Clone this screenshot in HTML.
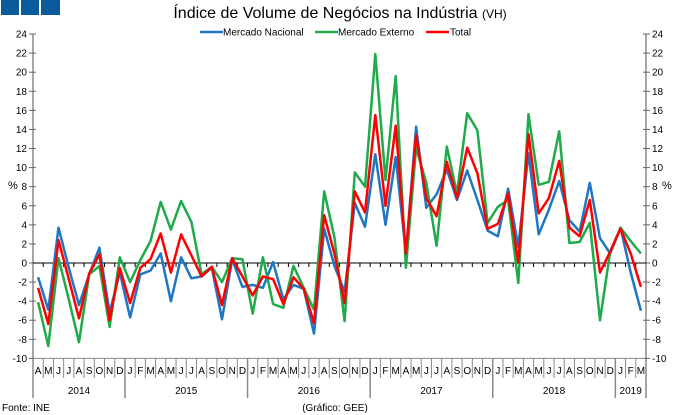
<!DOCTYPE html>
<html><head><meta charset="utf-8"><style>
body{margin:0;background:#fff;}
svg{display:block;font-family:"Liberation Sans",sans-serif;}
</style></head><body>
<svg id="c" width="680" height="415" viewBox="0 0 680 415">
<rect x="1" y="0" width="18" height="15" fill="#0b5a9c"/>
<rect x="21" y="0" width="18" height="15" fill="#0b5a9c"/>
<rect x="41" y="0" width="19" height="15" fill="#0b5a9c"/>
<text x="340" y="18" text-anchor="middle" font-size="16" fill="#000">Índice de Volume de Negócios na Indústria <tspan font-size="12">(VH)</tspan></text>
<g id="legend" font-size="10">
<line x1="200" y1="32" x2="223" y2="32" stroke="#1f77c4" stroke-width="2.5"/>
<text x="223" y="35.5">Mercado Nacional</text>
<line x1="315" y1="32" x2="338" y2="32" stroke="#1eab4b" stroke-width="2.5"/>
<text x="338" y="35.5">Mercado Externo</text>
<line x1="426" y1="32" x2="449" y2="32" stroke="#f00" stroke-width="2.5"/>
<text x="450" y="35.5">Total</text>
</g>
<g id="axes"></g>
<g id="series"></g>
<text x="8" y="189" font-size="11">%</text>
<text x="662" y="189" font-size="11">%</text>
<text x="2" y="411" font-size="10">Fonte: INE</text>
<text x="335" y="411" font-size="10" text-anchor="middle">(Gráfico: GEE)</text>
</svg>
<script>
const months=["A","M","J","J","A","S","O","N","D","J","F","M","A","M","J","J","A","S","O","N","D","J","F","M","A","M","J","J","A","S","O","N","D","J","F","M","A","M","J","J","A","S","O","N","D","J","F","M","A","M","J","J","A","S","O","N","D","J","F","M"];
const years=["2014","2015","2016","2017","2018","2019"];
const yearStarts=[0,9,21,33,45,57];
const yTicks=[24,22,20,18,16,14,12,10,8,6,4,2,0,-2,-4,-6,-8,-10];
const nacional=[-1.5,-4.9,3.7,-0.5,-4.4,-1.2,1.6,-5.2,-1.0,-5.7,-1.2,-0.8,1.0,-4.0,0.6,-1.6,-1.4,-0.5,-5.9,0.4,-2.5,-2.3,-2.6,0.1,-3.8,-2.3,-2.7,-7.4,3.6,-0.3,-3.0,6.3,3.8,11.4,4.0,11.1,1.0,14.3,5.8,7.2,9.8,6.6,9.7,6.6,3.4,2.8,7.8,1.7,11.5,3.0,5.6,8.6,4.5,3.3,8.4,2.6,1.0,3.7,-1.0,-5.0];
const externo=[-4.1,-8.7,0.5,-3.8,-8.3,-1.2,-0.3,-6.7,0.6,-2.0,0.3,2.3,6.4,3.5,6.5,4.3,-1.2,-0.4,-2.0,0.5,0.4,-5.3,0.6,-4.3,-4.7,-0.3,-2.6,-4.9,7.5,2.7,-6.1,9.5,8.0,21.9,8.7,19.6,-0.5,12.1,8.4,1.8,12.2,7.3,15.7,13.9,4.2,5.9,6.6,-2.1,15.6,8.2,8.5,13.8,2.1,2.2,4.2,-6.0,1.2,3.7,2.3,1.0];
const total=[-2.6,-6.4,2.4,-1.7,-5.8,-1.1,0.9,-6.0,-0.5,-4.2,-0.5,0.4,3.1,-1.0,3.0,0.8,-1.4,-0.4,-4.4,0.5,-1.4,-3.4,-1.4,-1.7,-4.3,-1.5,-2.7,-6.3,5.0,1.0,-4.2,7.5,5.3,15.5,6.0,14.4,1.0,13.4,6.8,4.9,10.6,6.8,12.1,9.4,3.6,4.1,7.3,0.0,13.5,5.2,6.8,10.7,3.7,2.8,6.6,-1.0,1.2,3.6,1.0,-2.5];

const NS="http://www.w3.org/2000/svg";
const X0=33,X1=646,Y0=263,PX=9.54;
const cw=(X1-X0)/months.length;
const xs=i=>X0+cw*(i+0.5);
const ys=v=>Y0-v*PX;
function mk(tag,attrs,parent){const e=document.createElementNS(NS,tag);for(const k in attrs)e.setAttribute(k,attrs[k]);parent.appendChild(e);return e;}
const ax=document.getElementById('axes');
const yTop=ys(24),yBot=ys(-10);
let l=mk('line',{x1:X0,y1:yTop,x2:X0,y2:398,stroke:'#888','stroke-width':1.5},ax);


l=mk('line',{x1:X1,y1:yTop,x2:X1,y2:398,stroke:'#888','stroke-width':1.5},ax);


yTicks.forEach(v=>{
  const y=ys(v);
  mk('line',{x1:X0-4,y1:y,x2:X0+3,y2:y,stroke:'#666'},ax);
  mk('line',{x1:X1-3,y1:y,x2:X1+4,y2:y,stroke:'#666'},ax);
  let t=mk('text',{x:X0-6,y:y+3.5,'text-anchor':'end','font-size':10},ax);t.textContent=v;
  
  
  t=mk('text',{x:X1+6,y:y+3.5,'font-size':10},ax);t.textContent=v;
  
  
});
l=mk('line',{x1:X0,y1:Y0,x2:X1,y2:Y0,stroke:'#000','stroke-width':1},ax);


for(let i=1;i<months.length;i++){const x=X0+cw*i;mk('line',{x1:x,y1:Y0,x2:x,y2:Y0+4,stroke:'#000'},ax);}
mk('line',{x1:X0,y1:yBot,x2:X1,y2:yBot,stroke:'#888'},ax);
months.forEach((m,i)=>{
  const x=X0+cw*i;
  if(i>0)mk('line',{x1:x,y1:yBot,x2:x,y2:yStartsIncl(i)?398:378,stroke:'#888','stroke-width':yStartsIncl(i)?1.5:1},ax);
  const t=mk('text',{x:xs(i),y:374,'text-anchor':'middle','font-size':10},ax);t.textContent=m;
  
  
});
function yStartsIncl(i){return yearStarts.indexOf(i)>=0;}
years.forEach((y,k)=>{
  const s=yearStarts[k],e=k+1<yearStarts.length?yearStarts[k+1]:months.length;
  const t=mk('text',{x:X0+cw*(s+e)/2,y:394,'text-anchor':'middle','font-size':10},ax);t.textContent=y;
  
  
});
const sg=document.getElementById('series');
[[nacional,'#1f77c4','series-mercado-nacional'],[externo,'#1eab4b','series-mercado-externo'],[total,'#f00','series-total']].forEach(([d,c,n])=>{
  const p=mk('polyline',{points:d.map((v,i)=>xs(i).toFixed(1)+','+ys(v).toFixed(1)).join(' '),fill:'none',stroke:c,'stroke-width':2.5,'stroke-linejoin':'round'},sg);
  
  
});
</script>
</body></html>
